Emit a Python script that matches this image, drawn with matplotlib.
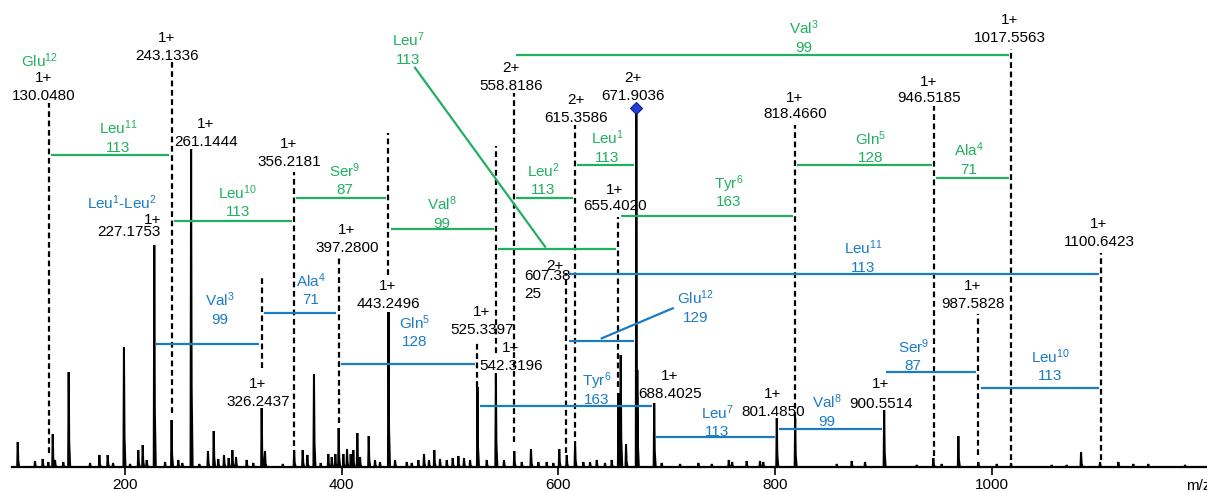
import numpy as np
import matplotlib
matplotlib.use('Agg')
import matplotlib.pyplot as plt

plt.rcParams['font.family'] = ['Liberation Sans', 'DejaVu Sans']
plt.rcParams['mathtext.fontset'] = 'custom'
plt.rcParams['mathtext.rm'] = 'Liberation Sans'
plt.rcParams['mathtext.it'] = 'Liberation Sans'
plt.rcParams['mathtext.bf'] = 'Liberation Sans:bold'

# ---------------- data ----------------
peak_mz = [101.2, 117.1, 124.2, 129.4, 133.5, 135.6, 143.2, 148.2, 167.9, 176.5,
           184.2, 189.1, 199.2, 204.8, 212.4, 216.5, 220.2, 227.1753, 237.1, 243.1336,
           249.3, 253.0, 261.1444, 268.7, 276.7, 282.0, 286.2, 291.5, 295.8, 299.2,
           302.6, 312.4, 318.5, 326.2437, 329.3, 345.7, 356.2181, 364.1, 368.4, 374.5,
           380.7, 387.7, 390.9, 394.2, 397.2800, 401.6, 405.0, 408.4, 410.8, 414.5,
           417.0, 425.0, 430.8, 435.4, 443.2496, 449.3, 460.1, 464.7, 470.8, 476.0,
           480.6, 485.5, 490.8, 497.0, 502.5, 507.7, 512.9, 518.5, 525.3397, 533.9,
           542.3196, 549.8, 559.3, 566.2, 574.7, 581.5, 589.2, 595.3, 600.8, 607.7,
           615.4, 623.0, 629.2, 635.4, 643.0, 649.2, 655.4020, 657.5, 662.4, 671.9036,
           672.8, 688.4025, 695.3, 712.2, 729.1, 741.5, 757.2, 760.3, 773.7, 786.0,
           789.0, 801.4850, 818.4660, 856.8, 870.6, 882.9, 900.5514, 930.6, 945.9, 953.6,
           969.0, 987.4, 1004.4, 1017.6, 1055.1, 1068.9, 1082.2, 1099.7, 1116.6, 1130.4,
           1144.2, 1178.1]
peak_intensity = [25, 6, 8, 5, 33, 7, 5, 95, 4, 12,
                  12, 4, 120, 3, 17, 22, 7, 222, 5, 47,
                  7, 4, 318, 3, 16, 36, 8, 12, 9, 17,
                  10, 7, 4, 59, 16, 3, 17, 17, 12, 93,
                  4, 13, 10, 13, 39, 13, 18, 13, 17, 34,
                  10, 31, 7, 5, 155, 7, 5, 4, 7, 13,
                  7, 17, 8, 7, 9, 11, 9, 7, 80, 7,
                  94, 7, 16, 5, 18, 5, 5, 4, 18, 12,
                  26, 5, 5, 7, 4, 7, 74, 112, 23, 359,
                  97, 64, 4, 3, 4, 3, 7, 5, 6, 6,
                  5, 49, 49, 3, 6, 5, 57, 2, 9, 3,
                  31, 5, 3, 4, 2, 2, 15, 5, 5, 3,
                  3, 2]

ion_mz = [130.0480, 227.1753, 243.1336, 261.1444, 326.2437, 356.2181, 397.2800,
          443.2496, 525.3397, 542.3196, 558.8186, 615.3586, 655.4020, 671.9036,
          688.4025, 801.4850, 818.4660, 900.5514, 946.5185, 987.5828, 1017.5563,
          1100.6423]
ion_charge = ['1+', '1+', '1+', '1+', '1+', '1+', '1+',
              '1+', '1+', '1+', '2+', '2+', '1+', '2+',
              '1+', '1+', '1+', '1+', '1+', '1+', '1+',
              '1+']
special_ion_mz = 607.3825
special_ion_charge = '2+'
precursor_mz = 671.9036

green_from = [130.0480, 243.1336, 356.2181, 443.2496, 542.3196, 655.4020, 818.4660,
              946.5185, 558.8186, 558.8186, 615.3586]
green_to = [243.1336, 356.2181, 443.2496, 542.3196, 655.4020, 818.4660, 946.5185,
            1017.5563, 1017.5563, 615.3586, 671.9036]
green_residue = ['Leu', 'Leu', 'Ser', 'Val', 'Leu', 'Tyr', 'Gln', 'Ala', 'Val', 'Leu', 'Leu']
green_index = [11, 10, 9, 8, 7, 6, 5, 4, 3, 2, 1]
green_mass = [113, 113, 87, 99, 113, 163, 128, 71, 99, 113, 113]

blue_from = [227.1753, 326.2437, 397.2800, 525.3397, 688.4025, 801.4850, 900.5514,
             987.5828, 607.3825, 607.3825]
blue_to = [326.2437, 397.2800, 525.3397, 688.4025, 801.4850, 900.5514, 987.5828,
           1100.6423, 1100.6423, 671.9036]
blue_residue = ['Val', 'Ala', 'Gln', 'Tyr', 'Leu', 'Val', 'Ser', 'Leu', 'Leu', 'Glu']
blue_index = [3, 4, 5, 6, 7, 8, 9, 10, 11, 12]
blue_mass = [99, 71, 128, 163, 113, 99, 87, 113, 113, 129]

x_ticks = [200, 400, 600, 800, 1000]

# ---------------- layout ----------------
GREEN = '#20B060'
BLUE = '#1B7CC4'
FS = 11
CAP = 5.5  # half cap-height in data units (px)

# ion label: (x, y of charge line centre, y of m/z line centre, ha)
ion_label_pos = [(125.4, 390, 372, 'center'), (233.4, 249, 236, 'right'),
                 (238.9, 431, 413, 'center'), (274.9, 344, 326, 'center'),
                 (322.9, 84, 67, 'center'), (351.5, 324, 306, 'center'),
                 (405.0, 239, 221, 'center'), (442.8, 183, 164, 'center'),
                 (529.3, 156, 139, 'center'), (556.3, 120, 102, 'center'),
                 (556.3, 400, 383, 'center'), (616.3, 368, 350, 'center'),
                 (652.2, 279, 263, 'center'), (668.6, 390, 373, 'center'),
                 (703.0, 92, 74, 'center'), (798.0, 74, 57, 'center'),
                 (818.3, 371, 354, 'center'), (897.6, 84, 65, 'center'),
                 (941.9, 387, 370, 'center'), (982.5, 182, 164, 'center'),
                 (1016.7, 448, 430, 'center'), (1098.8, 244, 227, 'center')]
# dashed guide lines: (mz, top, bottom)
dashed_ions = [130.0480, 243.1336, 326.2437, 356.2181, 397.2800, 443.2496, 525.3397,
               542.3196, 558.8186, 607.3825, 615.3586, 655.4020, 818.4660, 946.5185,
               987.5828, 1017.5563, 1100.6423]
dashed_top = [364, 405, 192, 295, 209, 334, 125, 321, 374, 194, 342, 250, 342, 361, 153, 418, 214]
dashed_bottom = [14, 54, 99, 21, 44, 192, 80, 114, 25, 14, 30, 80, 49, 11, 12, 7, 7]

green_level = [312, 246, 269, 238, 218, 251, 302, 289, 412, 268.7, 302]
green_label_x = [193.7, 304.4, 403.1, 492.3, 461.3, 756.8, 888.4, 978.8, 826.6, 586.1, 645.1]
green_label_y = [321, 256, 278, 245, 409, 266, 310, 299, 421, 278, 311]

blue_level = [123, 154.3, 103, 61.3, 30.3, 38, 95.3, 78.7, 192.7, 126.3]
blue_label_x = [287.2, 371.5, 467.7, 635.3, 746.6, 847.5, 927.4, 1053.6, 881.3, 726.9]
blue_label_y = [149, 168, 126, 69, 36, 47, 102, 92, 201, 151]

PAD = 2.0

# ---------------- figure ----------------
fig = plt.figure(figsize=(12.07, 4.92), dpi=100)
ax = fig.add_axes([12 / 1207, 25 / 492, 1195 / 1207, 467 / 492])
ax.set_xlim(95.91, 1198.4)
ax.set_ylim(0, 467)

# spectrum trace
xs, ys = [ax.get_xlim()[0]], [0]
for m, h in sorted(zip(peak_mz, peak_intensity)):
    xs += [m - 0.5, m, m + 0.5, m + 1.4]
    ys += [0, h, 0.25 * h, 0]
xs.append(ax.get_xlim()[1]); ys.append(0)
ax.plot(xs, ys, color='black', lw=1.45, solid_joinstyle='miter', clip_on=False, zorder=3)

# precursor marker
pi = peak_mz.index(precursor_mz)
ax.plot([precursor_mz], [peak_intensity[pi]], marker='D', ms=6.5, color='#1F3FD8',
        mec='#0A2090', mew=0.8, zorder=5)

# dashed guides
ax.vlines(dashed_ions, dashed_bottom, dashed_top, colors='black', lw=1.6,
          linestyles=(0, (2.6, 1.6)), zorder=2)

# ion labels
for m, c, (lx, yc, ym, ha) in zip(ion_mz, ion_charge, ion_label_pos):
    ax.text(lx, yc - CAP, c, fontsize=FS, ha=ha, va='baseline')
    ax.text(lx, ym - CAP, f'{m:.4f}', fontsize=FS, ha=ha, va='baseline')
# 607.3825 label (wrapped)
s = f'{special_ion_mz:.4f}'
ax.text(596.9, 203 - CAP, special_ion_charge, fontsize=FS, ha='center', va='baseline')
ax.text(568.3, 193 - CAP, s[:6], fontsize=FS, ha='left', va='baseline')
ax.text(568.3, 175 - CAP, s[6:], fontsize=FS, ha='left', va='baseline')

# green series
for a, b, r, i, ms_, lv, lx, ly in zip(green_from, green_to, green_residue, green_index,
                                      green_mass, green_level, green_label_x, green_label_y):
    ax.plot([a + PAD, b - PAD], [lv, lv], color=GREEN, lw=1.6, solid_capstyle='butt', zorder=4)
    ax.text(lx, ly + 17.5 - CAP, f'{r}$^{{{i}}}$', color=GREEN, fontsize=FS, ha='center', va='baseline')
    ax.text(lx, ly - CAP, str(ms_), color=GREEN, fontsize=FS, ha='center', va='baseline')
ax.text(121.7, 405 - CAP, 'Glu$^{12}$', color=GREEN, fontsize=FS, ha='center', va='baseline')
ax.plot([467.7, 587.7], [399.3, 220.3], color=GREEN, lw=1.6, zorder=4)

# blue series
for a, b, r, i, ms_, lv, lx, ly in zip(blue_from, blue_to, blue_residue, blue_index,
                                      blue_mass, blue_level, blue_label_x, blue_label_y):
    ax.plot([a + PAD, b - PAD], [lv, lv], color=BLUE, lw=1.6, solid_capstyle='butt', zorder=4)
    ax.text(lx, ly + 17.5 - CAP, f'{r}$^{{{i}}}$', color=BLUE, fontsize=FS, ha='center', va='baseline')
    ax.text(lx, ly - CAP, str(ms_), color=BLUE, fontsize=FS, ha='center', va='baseline')
ax.text(229.7, 264 - CAP, 'Leu$^{1}$-Leu$^{2}$', color=BLUE, fontsize=FS, ha='right', va='baseline')
ax.plot([640.0, 705.5], [128.7, 158.7], color=BLUE, lw=1.6, zorder=4)

# axes styling
for sp in ['left', 'right', 'top']:
    ax.spines[sp].set_visible(False)
ax.spines['bottom'].set_linewidth(1.6)
ax.set_yticks([])
ax.set_xticks(x_ticks)
ax.set_xticklabels([str(t) for t in x_ticks])
ax.tick_params(axis='x', length=6, width=1.2, labelsize=FS, pad=2)
ax.annotate('m/z', xy=(1, 0), xycoords='axes fraction', xytext=(-21, -19),
            textcoords='offset pixels', fontsize=FS, ha='left', va='center')

fig.savefig('out.png', dpi=100)
